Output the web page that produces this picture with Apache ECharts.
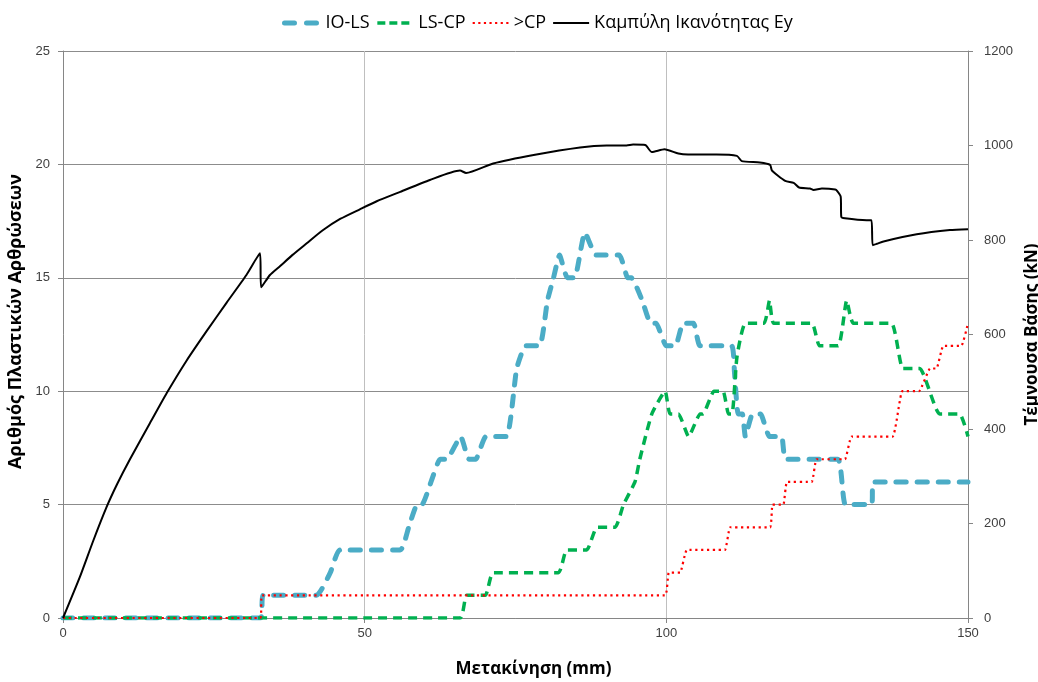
<!DOCTYPE html>
<html>
<head>
<meta charset="utf-8">
<script src="https://cdn.jsdelivr.net/npm/echarts@6/dist/echarts.min.js"></script>
<style>
  html, body { margin: 0; padding: 0; background: #fff; }
  #chart { width: 1038px; height: 682px; }
</style>
</head>
<body>
<div id="chart"></div>
<script>
// Number of plastic hinges per performance band vs. top displacement [mm, count]
const ioLs = [
  [0,0],[32.7,0],[33.2,1],[42,1],[44.3,2],[45.9,3],[55.9,3],[57.3,4],[58.7,5],[59.5,5],
  [61,6],[62.5,7],[63.6,7],[65.9,8],[67.3,7],[68.4,7],[70.1,8],[73.5,8],[75.2,11],[76.7,12],
  [79,12],[80.3,14],[81.3,15],[82.3,16],[83.6,15],[84.8,15],[86.5,17],[88.4,16],[92.2,16],
  [93.6,15],[94.2,15],[96,14],[97.4,13],[98.3,13],[100,12],[101.5,12],[102.8,13],[104.5,13],
  [105.6,12],[110.8,12],[111.3,10.8],[111.9,9],[112.6,9],[113.1,8],[114.3,9],[115.6,9],
  [117.1,8],[119.1,8],[119.8,7],[128.4,7],[129.7,5],[134,5],[134.3,6],[150,6]
];
const lsCp = [
  [0,0],[65.8,0],[66.9,1],[70,1],[71.3,2],[82.1,2],[83.5,3],[86.8,3],[88.5,4],[91.5,4],
  [92.9,5],[94.8,6],[95.6,7],[97.6,9],[99.8,10],[100.6,9],[102,9],[103.7,8],[105.6,9],[106.1,9],
  [107.9,10],[109.4,10],[110.3,9],[110.9,9],[111.7,11.5],[113.1,13],[116.2,13],[117.1,14],
  [117.8,13],[124.1,13],[125.4,12],[128.5,12],[129.9,14],[131,13],[137.3,13],[139.2,11],
  [142,11],[145.3,9],[148.6,9],[150,8]
];
const overCp = [
  [0,0],[32.7,0],[33,1],[99.8,1],[100.4,2],[102.3,2],[103.4,3],[109.7,3],[110.6,4],[117.2,4],
  [117.6,5],[119.4,5],[120,6],[124.1,6],[124.9,7],[129.6,7],[130.7,8],[137.5,8],[139.1,10],
  [141.9,10],[143.7,11],[144.8,11],[145.9,12],[148.9,12],[150,13]
];
// Capacity (pushover) curve in the y direction: displacement [mm] vs. base shear [kN]
const capacity = [
  [0,0],[2.8,87],[5,163],[7.2,234],[9,284],[11.1,336],[14.4,412],[17.2,476],[20.5,545],
  [23.8,607],[27.1,667],[30.4,726],[32.65,772],[32.85,700],[34.3,726],[36,745],[38,768],
  [40.4,793],[43,820],[46,845],[49.2,865],[52,882],[55.9,902],[60.8,927],[65.8,947],
  [66.8,942],[71.3,962],[78,980],[85.7,996],[90.1,1000],[93.4,1000],[94.5,1002],[96.5,1001],
  [97.6,986],[99.7,992],[102,983],[103.6,981],[108.3,981],[111.7,978],[112.5,967],[115.5,964],
  [117.2,959],[117.5,947],[119.7,925],[121.1,921],[122,911],[123.8,909],[124.4,906],
  [125.8,909],[128,907],[128.3,904],[128.9,892],[129,849],[129.6,846],[133.2,842],[134,842],
  [134.2,789],[134.9,792],[136,797],[141.5,812],[147,821],[150,823]
];

const seriesNames = ['IO-LS', 'LS-CP', '>CP', 'Καμπύλη Ικανότητας Εy'];
const xTitle = 'Μετακίνηση (mm)';
const yLeftTitle = 'Αριθμός Πλαστικών Αρθρώσεων';
const yRightTitle = 'Τέμνουσα Βάσης (kN)';

const FONT = '"Open Sans", "Liberation Sans", Arial, sans-serif';
const TICK_FONT = '"Liberation Sans", Arial, sans-serif';
const labelColor = '#404040';
const axisLineColor = '#868686';

// line styles for each series and for its legend entry
const styles = [
  { color: '#4bacc6', width: 5, type: [10, 11], cap: 'round', join: 'round' },
  { color: '#00b050', width: 3.5, type: [9, 6], cap: 'butt', join: 'round' },
  { color: '#ff0000', width: 2.2, type: [2.2, 3.6], cap: 'butt' },
  { color: '#000000', width: 2, join: 'round' }
];
const legendStyles = [
  { color: '#4bacc6', width: 5, type: [10, 12], cap: 'round' },
  { color: '#00b050', width: 3.5, type: [8, 4], cap: 'butt' },
  { color: '#ff0000', width: 2.2, type: [2.2, 3.4], cap: 'butt' },
  { color: '#000000', width: 2 }
];

const chart = echarts.init(document.getElementById('chart'), null, { renderer: 'canvas' });

chart.setOption({
  animation: false,
  backgroundColor: '#ffffff',
  textStyle: { fontFamily: FONT },
  legend: {
    top: 9,
    left: 277,
    itemWidth: 36,
    itemHeight: 12,
    itemGap: 6,
    itemStyle: { opacity: 0, borderWidth: 0 },
    textStyle: { fontSize: 18, color: '#000', fontFamily: FONT },
    data: seriesNames.map((name, i) => ({ name, lineStyle: legendStyles[i] }))
  },
  grid: { left: 63, right: 70, top: 51, bottom: 64, containLabel: false, outerBoundsMode: 'none' },
  xAxis: {
    type: 'value',
    min: 0, max: 150, interval: 50,
    name: xTitle,
    nameLocation: 'middle',
    nameGap: 43,
    nameTextStyle: { fontSize: 17, fontWeight: 'bold', color: '#000', fontFamily: FONT,
                     padding: [0, 0, 0, 36] },
    axisLine: { show: true, lineStyle: { color: axisLineColor, width: 1 } },
    axisTick: { show: true, length: 5, lineStyle: { color: axisLineColor } },
    axisLabel: { fontSize: 13, color: labelColor, margin: 9, fontFamily: TICK_FONT },
    splitLine: { show: true, lineStyle: { color: '#bfbfbf', width: 1 } }
  },
  yAxis: [
    {
      type: 'value',
      min: 0, max: 25, interval: 5,
      name: yLeftTitle,
      nameLocation: 'middle',
      nameGap: 33,
      nameTextStyle: { fontSize: 18, fontWeight: 'bold', color: '#000', fontFamily: FONT,
                       padding: [0, 0, 0, 26] },
      axisLine: { show: true, lineStyle: { color: axisLineColor, width: 1 } },
      axisTick: { show: true, length: 5, lineStyle: { color: axisLineColor } },
      axisLabel: { fontSize: 13, color: labelColor, margin: 13, fontFamily: TICK_FONT },
      splitLine: { show: true, lineStyle: { color: '#8c8c8c', width: 1 } }
    },
    {
      type: 'value',
      min: 0, max: 1200, interval: 200,
      name: yRightTitle,
      nameLocation: 'middle',
      nameGap: 44,
      nameRotate: 90,
      nameTextStyle: { fontSize: 17, fontWeight: 'bold', color: '#000', fontFamily: FONT },
      position: 'right',
      axisLine: { show: true, lineStyle: { color: axisLineColor, width: 1 } },
      axisTick: { show: true, length: 5, lineStyle: { color: axisLineColor } },
      axisLabel: { fontSize: 13, color: labelColor, margin: 16, fontFamily: TICK_FONT,
                   formatter: v => String(v) },
      splitLine: { show: false }
    }
  ],
  series: [
    {
      name: seriesNames[0], type: 'line', yAxisIndex: 0,
      data: ioLs, showSymbol: false, symbol: 'none', smooth: 0.15,
      lineStyle: styles[0], itemStyle: { color: styles[0].color }
    },
    {
      name: seriesNames[1], type: 'line', yAxisIndex: 0,
      data: lsCp, showSymbol: false, symbol: 'none', smooth: 0.15,
      lineStyle: styles[1], itemStyle: { color: styles[1].color }
    },
    {
      name: seriesNames[2], type: 'line', yAxisIndex: 0,
      data: overCp, showSymbol: false, symbol: 'none', smooth: 0.1,
      lineStyle: styles[2], itemStyle: { color: styles[2].color }
    },
    {
      name: seriesNames[3], type: 'line', yAxisIndex: 1,
      data: capacity, showSymbol: false, symbol: 'none', smooth: 0.2,
      lineStyle: styles[3], itemStyle: { color: styles[3].color }
    }
  ]
});
</script>
</body>
</html>
